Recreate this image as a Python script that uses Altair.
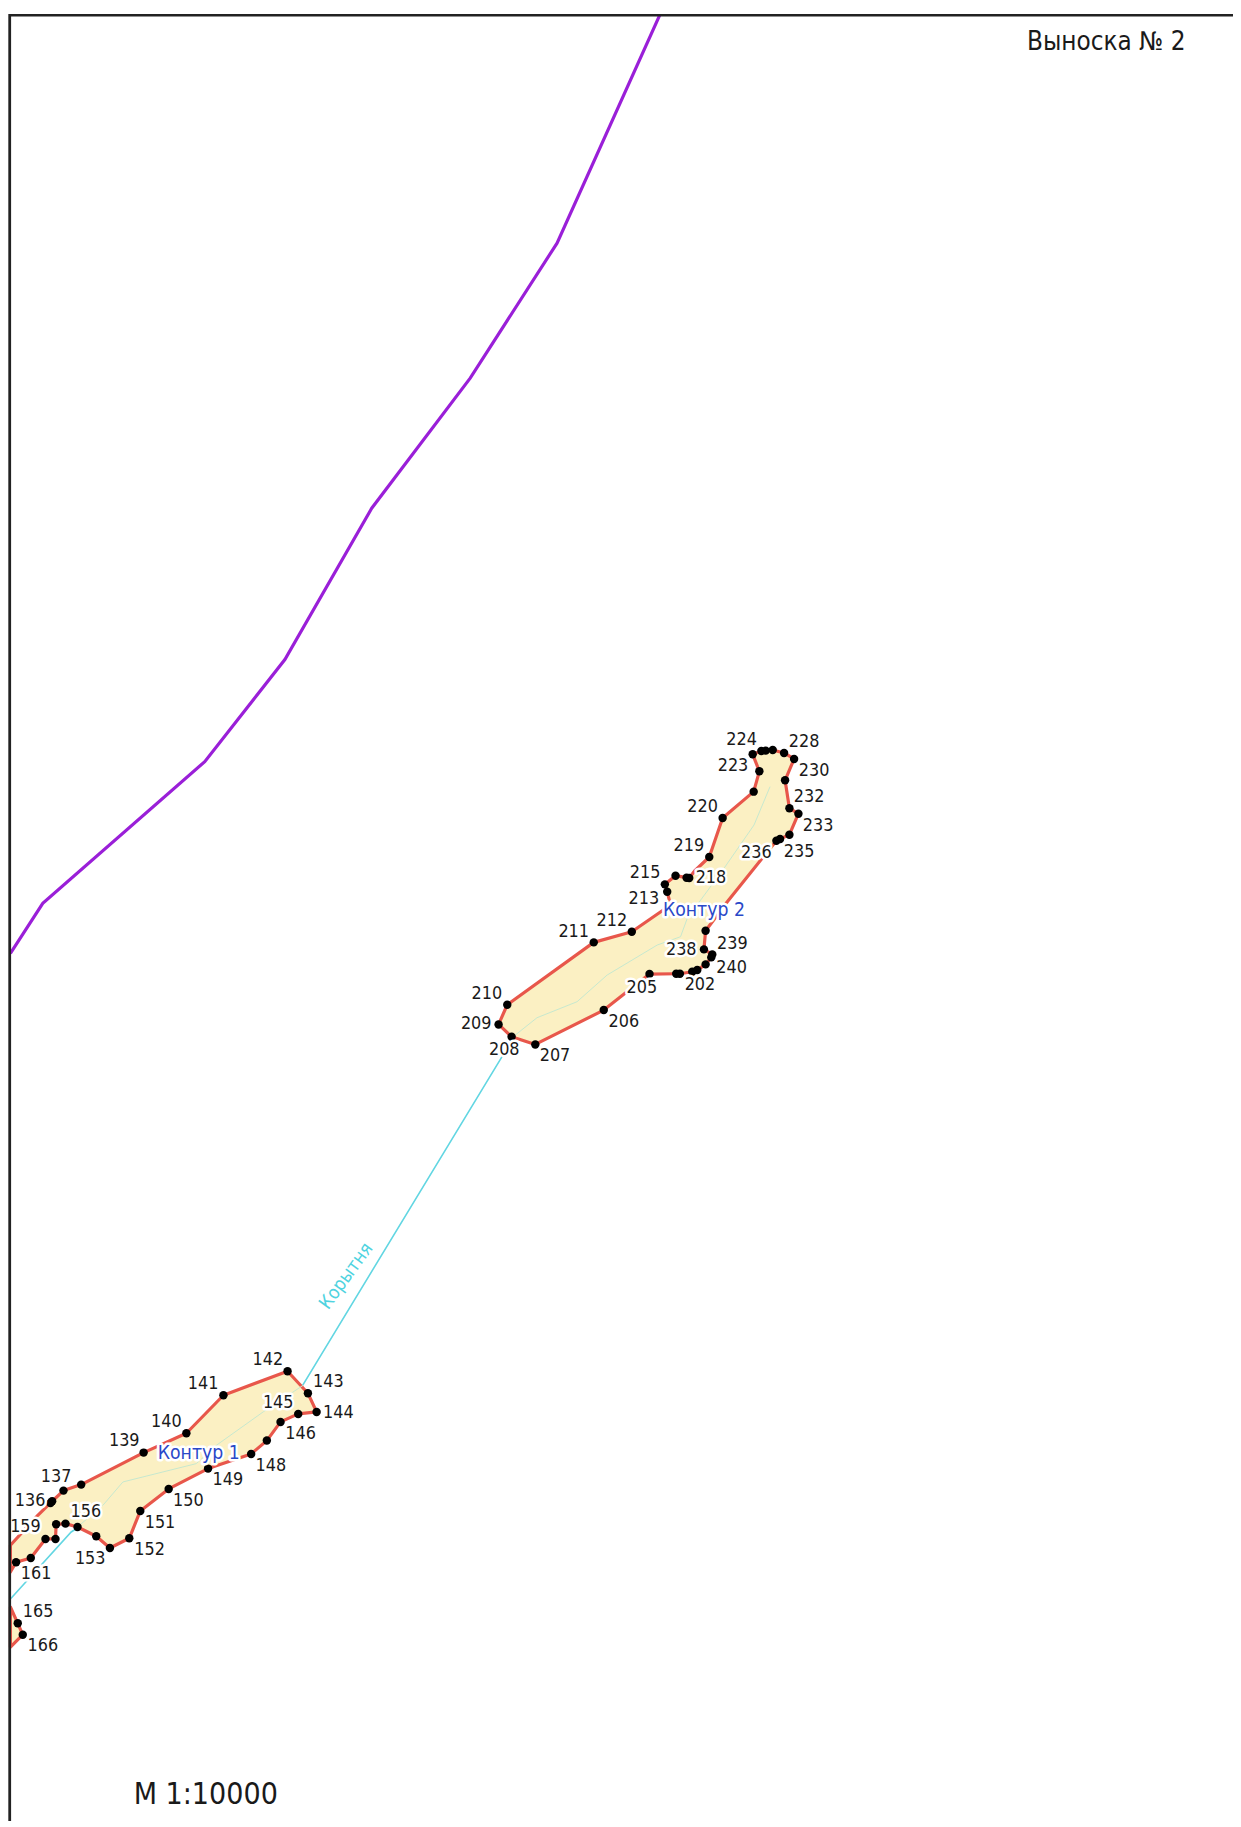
import altair as alt
import pandas as pd

FONT = "'DejaVu Sans Condensed', 'Noto Sans', sans-serif"

C2_O = (440, 710)
c2_x = [627, 490, 285, 214, 175, 201, 460, 574, 690, 680, 673, 705, 738, 746, 762, 806, 846, 939, 956, 936,
        962, 975, 996, 1030, 1060, 1033, 1046, 1073, 1046, 1018, 1007, 860, 795, 790, 815, 812, 795, 770, 755, 718, 707]
c2_y = [787, 895, 998, 975, 938, 879, 692, 660, 580, 540, 518, 492, 498, 499, 478, 436, 319, 240, 179, 128,
        118, 117, 115, 124, 142, 206, 290, 306, 369, 382, 387, 570, 657, 713, 728, 737, 758, 775, 780, 786, 786]
c2_hidden = [8, 14, 31]

C1_O = (0, 1340)
c1_x = [863, 924, 950, 895, 842, 801, 754, 625, 507, 422, 389, 331, 290, 234, 198, 170, 168, 138, 94, 50, 33,
        33, 115, 153, 158, 192, 245, 432, 560, 671]
c1_y = [88, 154, 210, 216, 240, 296, 336, 380, 441, 507, 589, 618, 583, 555, 545, 547, 591, 591, 648, 661, 690,
        610, 520, 483, 478, 446, 428, 332, 274, 160]
c1_hidden = [20, 21, 22]

c0_x = [33, 55, 70, 33]
c0_y = [795, 844, 878, 915]
c0_hidden = [0, 3]

stream2_x = [988, 940, 850, 740, 720, 650, 500, 410, 290, 225]
stream2_y = [225, 340, 470, 620, 675, 700, 790, 870, 918, 970]
stream1_x = [910, 790, 650, 590, 370, 310, 234]
stream1_y = [130, 210, 310, 365, 420, 490, 555]

river_x = [515, 303, 71.7, 11]
river_y = [1033, 1383, 1530, 1597]
boundary_x = [660, 556.7, 470, 371.7, 285, 205, 43.3, 11]
boundary_y = [12, 241.7, 376.7, 506.7, 658, 760, 901.7, 951.7]

frame_top_x = [10, 1250]
frame_top_y = [13.8, 13.8]
frame_left_x = [10.3, 10.3]
frame_left_y = [12, 1840]

labels2 = ["224", "228", "223", "230", "232", "220", "233", "235", "236", "219", "215", "218", "213", "212",
           "211", "239", "238", "240", "202", "205", "210", "206", "209", "208", "207"]
labels2_x = [903, 1090, 877, 1120, 1105, 786, 1132, 1075, 947, 745, 614, 811, 610, 514,
             400, 875, 722, 873, 778, 604, 140, 550, 108, 192, 344]
labels2_y = [85, 90, 163, 178, 255, 287, 342, 422, 423, 402, 485, 500, 562, 627,
             660, 696, 714, 770, 820, 828, 846, 930, 938, 1016, 1032]
labels1 = ["142", "141", "143", "145", "144", "140", "146", "139", "148", "137", "149", "136", "150", "156",
           "151", "159", "152", "153", "161", "165", "166"]
labels1_x = [804, 610, 985, 835, 1015, 500, 902, 374, 813, 170, 684, 92, 566, 259, 481, 78, 450, 272, 110, 116, 130]
labels1_y = [55, 127, 120, 183, 212, 240, 275, 298, 372, 405, 414, 478, 477, 511, 543, 556, 625, 652, 696, 810, 912]

contour_names = ["Контур 2", "Контур 1"]
contour_x = [440 + 790 / 3, 597 / 3]
contour_y = [710 + 595 / 3, 1340 + 333 / 3]

# Where the chart's corner falls in the photographed picture, and its scale there.
TOP = 12.57
LEFT = 8.6
K = 0.9918
K_Y = 0.9931
W, H = 1233, 1819


def table(xs, ys, origin=(0, 0), scale=1.0):
    return pd.DataFrame({
        "x": [origin[0] + v * scale for v in xs],
        "y": [origin[1] + v * scale for v in ys],
        "i": list(range(len(xs))),
    })


X = alt.X("x:Q", axis=None, scale=alt.Scale(domain=[LEFT, LEFT + W * K], nice=False, zero=False))
Y = alt.Y("y:Q", axis=None, scale=alt.Scale(domain=[TOP + H * K_Y, TOP], nice=False, zero=False))
ORD = alt.Order("i:Q")


def path(df, color, width, **kw):
    return alt.Chart(df).mark_line(color=color, strokeWidth=width, clip=True, **kw).encode(x=X, y=Y, order=ORD)


def polygon(df):
    return alt.Chart(df).mark_line(interpolate="linear-closed", stroke="#e8574b", strokeWidth=3.2,
                                   fill="#fbf0c3", clip=True, strokeJoin="round").encode(x=X, y=Y, order=ORD)


def dots(df):
    return alt.Chart(df).mark_circle(color="#000000", opacity=1, size=72, clip=True).encode(x=X, y=Y)


def texts(df, color, size, halo=True, **kw):
    base = dict(font=FONT, fontSize=size / K, align="center", baseline="middle")
    base.update(kw)
    layers = []
    if halo:
        layers.append(alt.Chart(df).mark_text(stroke="#ffffff", strokeWidth=5, fill="#ffffff",
                                              strokeJoin="round", **base).encode(x=X, y=Y, text="t:N"))
    layers.append(alt.Chart(df).mark_text(fill=color, **base).encode(x=X, y=Y, text="t:N"))
    return layers


p2 = table(c2_x, c2_y, C2_O, 1 / 3)
p1 = table(c1_x, c1_y, C1_O, 1 / 3)
p0 = table(c0_x, c0_y, C1_O, 1 / 3)

d2 = p2[~p2["i"].isin(c2_hidden)]
d1 = p1[~p1["i"].isin(c1_hidden)]
d0 = p0[~p0["i"].isin(c0_hidden)]

t2 = table(labels2_x, labels2_y, C2_O, 1 / 3).assign(t=labels2)
t1 = table(labels1_x, labels1_y, C1_O, 1 / 3).assign(t=labels1)
tc = table(contour_x, contour_y).assign(t=contour_names)
numbers = pd.concat([t2, t1], ignore_index=True)

layers = [
    path(table(boundary_x, boundary_y), "#9a1fd8", 3.2),
    path(table(river_x, river_y), "#62d6e2", 1.6),
    polygon(p2), polygon(p1), polygon(p0),
    path(table(stream2_x, stream2_y, C2_O, 1 / 3), "#c6e8cf", 1.0),
    path(table(stream1_x, stream1_y, C1_O, 1 / 3), "#c6e8cf", 1.0),
    dots(d2), dots(d1), dots(d0),
]
layers += texts(numbers, "#1a1a1a", 17.8)
layers += texts(tc, "#2a48c8", 19.2)
layers += texts(pd.DataFrame({"x": [346], "y": [1274], "t": ["Корытня"]}), "#4fd3e0", 18.6, halo=False, angle=306)
layers += texts(pd.DataFrame({"x": [1105], "y": [41], "t": ["Выноска № 2"]}), "#1a1a1a", 25.8, halo=False)
layers += texts(pd.DataFrame({"x": [206], "y": [1793], "t": ["M 1:10000"]}), "#1a1a1a", 30, halo=False)
layers += [
    path(table(frame_top_x, frame_top_y), "#222222", 2.6),
    path(table(frame_left_x, frame_left_y), "#222222", 2.8),
]

chart = alt.layer(*layers).properties(
    width=W, height=H, padding=0, autosize=alt.AutoSizeParams(type="none"),
    background="#ffffff",
).configure_view(stroke=None)

chart.save("out.html", embed_options={"renderer": "svg", "actions": False})
